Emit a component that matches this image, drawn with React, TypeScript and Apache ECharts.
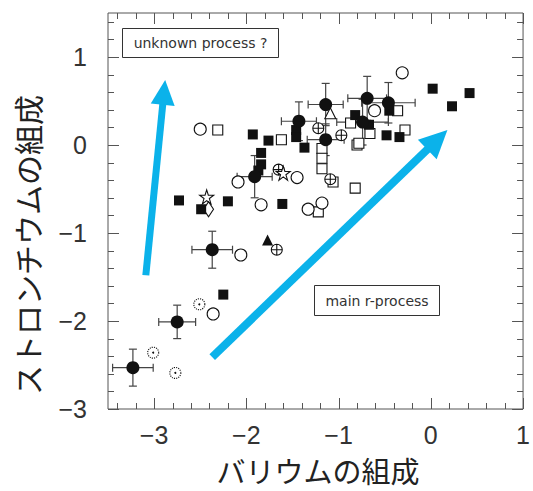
import React, { useEffect, useRef } from "react";
import * as echarts from "echarts";

// ---- axis ranges & ticks ----
const X_MIN = -3.5;
const X_MAX = 1;
const Y_MIN = -3;
const Y_MAX = 1.5;
const xMajorTicks = [-3, -2, -1, 0, 1];
const xMinorTicks = [-3.4, -3.2, -2.8, -2.6, -2.4, -2.2, -1.8, -1.6, -1.4, -1.2, -0.8, -0.6, -0.4, -0.2, 0.2, 0.4, 0.6, 0.8];
const yMajorTicks = [-3, -2, -1, 0, 1];
const yMinorTicks = [-2.8, -2.6, -2.4, -2.2, -1.8, -1.6, -1.4, -1.2, -0.8, -0.6, -0.4, -0.2, 0.2, 0.4, 0.6, 0.8, 1.2, 1.4];

// ---- data: [Ba, Sr, xErr, yErr] ----
const filledCirclesErr = [
  [-3.23, -2.53, 0.22, 0.21],
  [-2.75, -2.01, 0.2, 0.19],
  [-2.37, -1.19, 0.22, 0.21],
  [-1.91, -0.36, 0.19, 0.24],
  [-1.43, 0.27, 0.19, 0.22],
  [-1.14, 0.46, 0.19, 0.24],
  [-1.14, 0.06, 0.2, 0.18],
  [-0.74, 0.26, 0.28, 0.26],
  [-0.69, 0.53, 0.21, 0.25],
  [-0.46, 0.48, 0.29, 0.23],
];
const filledSquares = [
  [0.02, 0.64], [0.42, 0.59], [0.23, 0.44], [-0.82, 0.34], [-0.45, 0.39],
  [-0.67, 0.23], [-0.48, 0.11], [-0.34, 0.09], [-1.46, 0.17], [-1.46, 0.09],
  [-1.93, 0.12], [-1.76, 0.05], [-1.37, -0.03], [-1.84, -0.09], [-1.84, -0.22],
  [-1.87, -0.29], [-2.73, -0.63], [-2.49, -0.73], [-2.2, -0.64], [-1.61, -0.67],
  [-2.25, -1.7],
];
const openSquares = [
  [-2.31, 0.17], [-1.62, 0.06], [-0.87, 0.25], [-0.36, 0.39], [-0.28, 0.17],
  [-0.66, 0.13], [-0.8, 0.0], [-0.78, 0.02], [-1.18, -0.04], [-1.18, -0.15],
  [-1.18, -0.27], [-1.06, -0.42], [-0.82, -0.49], [-1.22, -0.76],
];
const openCircles = [
  [-0.31, 0.82], [-0.61, 0.39], [-2.5, 0.18], [-2.09, -0.42], [-1.45, -0.37],
  [-1.84, -0.68], [-1.33, -0.73], [-1.18, -0.66], [-2.06, -1.25], [-2.36, -1.92],
];
const crossCircles = [[-1.22, 0.19], [-0.97, 0.11], [-1.09, -0.39], [-1.65, -0.28], [-1.67, -1.19]];
const dottedCircles = [[-2.51, -1.81], [-3.01, -2.36], [-2.77, -2.59]];
const openStars = [[-1.6, -0.32], [-2.43, -0.59]];
const filledTriangles = [[-1.77, -1.08]];
const openTriangles = [[-1.09, 0.36]];
const openDiamonds = [[-2.41, -0.73]];

// ---- arrows: [x1, y1, x2, y2] in data units ----
const arrows = [
  [-3.09, -1.48, -2.88, 0.74],
  [-2.37, -2.41, 0.18, 0.17],
];

const X_TITLE = "バリウムの組成";
const Y_TITLE = "ストロンチウムの組成";
const BOX1 = "unknown process ?";
const BOX2 = "main r-process";

const fmt = (v: number) => {
  if (Math.abs(v - Math.round(v)) > 1e-6) return "";
  const r = Math.round(v);
  return r < 0 ? "\u2212" + -r : String(r);
};

const INK = "#111";
const AXIS = "#555";
const CYAN = "#0bb2ea";

export default function App() {
  const ref = useRef<HTMLDivElement>(null);
  useEffect(() => {
    if (!ref.current) return;
    const chart = echarts.init(ref.current, null, { renderer: "svg" });

    const tickSeries = (axis: "x" | "y") => ({
      type: "custom",
      silent: true,
      clip: false,
      z: 5,
      encode: { x: 0, y: 1 },
      data:
        axis === "x"
          ? [...xMajorTicks.map((v) => [v, Y_MIN, 1]), ...xMinorTicks.map((v) => [v, Y_MIN, 0])]
          : [...yMajorTicks.map((v) => [X_MIN, v, 1]), ...yMinorTicks.map((v) => [X_MIN, v, 0])],
      renderItem: (params: any, api: any) => {
        const cs = params.coordSys;
        const len = api.value(2) ? 11 : 6;
        const p = api.coord([api.value(0), api.value(1)]);
        const st = { stroke: AXIS, lineWidth: 1 };
        if (axis === "x") {
          const x = Math.round(p[0]) + 0.5;
          return {
            type: "group",
            children: [
              { type: "line", shape: { x1: x, y1: cs.y + cs.height, x2: x, y2: cs.y + cs.height - len }, style: st },
              { type: "line", shape: { x1: x, y1: cs.y, x2: x, y2: cs.y + len }, style: st },
            ],
          };
        }
        const y = Math.round(p[1]) + 0.5;
        return {
          type: "group",
          children: [
            { type: "line", shape: { x1: cs.x, y1: y, x2: cs.x + len, y2: y }, style: st },
            { type: "line", shape: { x1: cs.x + cs.width, y1: y, x2: cs.x + cs.width - len, y2: y }, style: st },
          ],
        };
      },
    });

    const errSeries = {
      type: "custom",
      silent: true,
      z: 2,
      encode: { x: 0, y: 1 },
      data: filledCirclesErr,
      renderItem: (_p: any, api: any) => {
        const x = api.value(0), y = api.value(1), ex = api.value(2), ey = api.value(3);
        const l = api.coord([x - ex, y]);
        const r = api.coord([x + ex, y]);
        const t = api.coord([x, y + ey]);
        const b = api.coord([x, y - ey]);
        const cap = 4;
        const st = { stroke: "#444", lineWidth: 1.2 };
        return {
          type: "group",
          children: [
            { type: "line", shape: { x1: l[0], y1: l[1], x2: r[0], y2: r[1] }, style: st },
            { type: "line", shape: { x1: t[0], y1: t[1], x2: b[0], y2: b[1] }, style: st },
            { type: "line", shape: { x1: l[0], y1: l[1] - cap, x2: l[0], y2: l[1] + cap }, style: st },
            { type: "line", shape: { x1: r[0], y1: r[1] - cap, x2: r[0], y2: r[1] + cap }, style: st },
            { type: "line", shape: { x1: t[0] - cap, y1: t[1], x2: t[0] + cap, y2: t[1] }, style: st },
            { type: "line", shape: { x1: b[0] - cap, y1: b[1], x2: b[0] + cap, y2: b[1] }, style: st },
          ],
        };
      },
    };

    const arrowStyle = [
      { w: 7, hl: 25, hw: 24 },
      { w: 8, hl: 28, hw: 27 },
    ];
    const arrowSeries = {
      type: "custom",
      silent: true,
      z: 10,
      encode: { x: [0, 2], y: [1, 3] },
      data: arrows,
      renderItem: (params: any, api: any) => {
        const s = arrowStyle[params.dataIndex];
        const p1 = api.coord([api.value(0), api.value(1)]);
        const p2 = api.coord([api.value(2), api.value(3)]);
        const dx = p2[0] - p1[0], dy = p2[1] - p1[1];
        const L = Math.sqrt(dx * dx + dy * dy);
        const ux = dx / L, uy = dy / L;
        const px = -uy, py = ux;
        const bx = p2[0] - ux * s.hl, by = p2[1] - uy * s.hl;
        return {
          type: "group",
          children: [
            {
              type: "line",
              shape: { x1: p1[0], y1: p1[1], x2: bx + ux * 2, y2: by + uy * 2 },
              style: { stroke: CYAN, lineWidth: s.w, lineCap: "butt" },
            },
            {
              type: "polygon",
              shape: {
                points: [
                  [p2[0], p2[1]],
                  [bx + (px * s.hw) / 2, by + (py * s.hw) / 2],
                  [bx - (px * s.hw) / 2, by - (py * s.hw) / 2],
                ],
              },
              style: { fill: CYAN },
            },
          ],
        };
      },
    };

    const open = { color: "#fff", borderColor: INK, borderWidth: 1.1, opacity: 1 };
    const scatter = (data: number[][], symbol: string, size: any, itemStyle: any, z = 3) => ({
      type: "scatter",
      data,
      symbol,
      symbolSize: size,
      itemStyle: { opacity: 1, ...itemStyle },
      z,
      silent: true,
    });

    chart.setOption({
      animation: false,
      grid: {
        left: 108,
        right: 6,
        top: 13,
        bottom: 82,
        show: true,
        borderColor: AXIS,
        borderWidth: 1,
        backgroundColor: "transparent",
      },
      xAxis: {
        type: "value",
        min: X_MIN,
        max: X_MAX,
        interval: 0.5,
        axisLine: { show: false },
        axisTick: { show: false },
        splitLine: { show: false },
        axisLabel: {
          formatter: fmt,
          margin: 13,
          fontSize: 25,
          color: "#333",
          fontFamily: "Liberation Sans",
          showMinLabel: true,
          showMaxLabel: true,
        },
      },
      yAxis: {
        type: "value",
        min: Y_MIN,
        max: Y_MAX,
        interval: 0.5,
        axisLine: { show: false },
        axisTick: { show: false },
        splitLine: { show: false },
        axisLabel: {
          formatter: fmt,
          margin: 21,
          fontSize: 25,
          color: "#333",
          fontFamily: "Liberation Sans",
        },
      },
      series: [
        tickSeries("x"),
        tickSeries("y"),
        errSeries,
        scatter(openSquares, "rect", 10, open),
        scatter(openCircles, "circle", 12, open),
        scatter(
          crossCircles,
          "path://M0,10 A10,10 0 1,0 20,10 A10,10 0 1,0 0,10 Z M10,0 L10,20 M0,10 L20,10",
          11,
          open
        ),
        scatter(dottedCircles, "circle", 11, { color: "#fff", borderColor: INK, borderWidth: 1.1, borderType: "dotted" }),
        scatter(dottedCircles, "circle", 2, { color: INK }, 4),
        scatter(
          openStars,
          "path://M50,0 L61.2,34.5 L97.6,34.5 L68.2,55.9 L79.4,90.5 L50,69.1 L20.6,90.5 L31.8,55.9 L2.4,34.5 L38.8,34.5 Z",
          14,
          open
        ),
        scatter(openTriangles, "triangle", 11, open),
        scatter(openDiamonds, "diamond", [10, 15], open),
        scatter(filledSquares, "rect", 10, { color: INK }),
        scatter(filledTriangles, "triangle", 11, { color: INK }),
        scatter(filledCirclesErr.map((d) => [d[0], d[1]]), "circle", 13, { color: INK }),
        arrowSeries,
      ],
      graphic: [
        {
          type: "rect",
          shape: { x: 122.5, y: 28.5, width: 156, height: 29 },
          style: { fill: "#fff", stroke: "#333", lineWidth: 1 },
          z: 20,
        },
        {
          type: "text",
          x: 200.5,
          y: 43,
          style: {
            text: BOX1,
            align: "center",
            verticalAlign: "middle",
            fontSize: 14,
            fontFamily: "DejaVu Sans",
            fill: "#333",
          },
          z: 21,
        },
        {
          type: "rect",
          shape: { x: 314.5, y: 285.5, width: 125, height: 30 },
          style: { fill: "#fff", stroke: "#333", lineWidth: 1 },
          z: 20,
        },
        {
          type: "text",
          x: 377,
          y: 300.5,
          style: {
            text: BOX2,
            align: "center",
            verticalAlign: "middle",
            fontSize: 14,
            fontFamily: "DejaVu Sans",
            fill: "#333",
          },
          z: 21,
        },
        {
          type: "text",
          x: 318,
          y: 469.5,
          style: {
            text: X_TITLE,
            align: "center",
            verticalAlign: "middle",
            fontSize: 29,
            fontFamily: "Noto Sans CJK JP",
            fill: "#222",
          },
        },
        {
          type: "text",
          x: 27,
          y: 245,
          rotation: Math.PI / 2,
          style: {
            text: Y_TITLE,
            align: "center",
            verticalAlign: "middle",
            fontSize: 30,
            fontFamily: "Noto Sans CJK JP",
            fill: "#222",
          },
        },
      ],
    });
    return () => chart.dispose();
  }, []);
  return (
    <div
      ref={ref}
      style={{ position: "fixed", left: 0, top: 0, width: 533, height: 491, background: "#fff" }}
    />
  );
}
